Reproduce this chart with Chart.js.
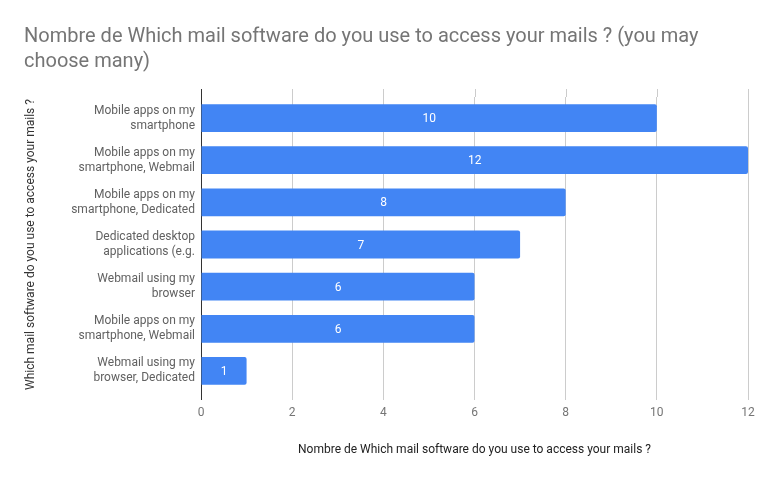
<!DOCTYPE html>
<html><head><meta charset="utf-8">
<script src="https://cdn.jsdelivr.net/npm/chart.js@4"></script>
<style>html,body{margin:0;padding:0;background:#fff}#wrap{width:773px;height:478px}</style>
</head><body><div id="wrap"><canvas id="c"></canvas></div>
<script>
const titleLines = ["Nombre de Which mail software do you use to access your mails ? (you may", "choose many)"];
const categories = [
  ["Mobile apps on my", "smartphone"],
  ["Mobile apps on my", "smartphone, Webmail"],
  ["Mobile apps on my", "smartphone, Dedicated"],
  ["Dedicated desktop", "applications (e.g."],
  ["Webmail using my", "browser"],
  ["Mobile apps on my", "smartphone, Webmail"],
  ["Webmail using my", "browser, Dedicated"]
];
const counts = [10, 12, 8, 7, 6, 6, 1];
const xTitle = "Nombre de Which mail software do you use to access your mails ?";
const yTitle = "Which mail software do you use to access your mails ?";

const gridExt = {
  id: 'gridExt',
  beforeDatasetsDraw(chart) {
    const {ctx, chartArea} = chart;
    const xs = chart.scales.x;
    ctx.save();
    ctx.lineWidth = 1;
    xs.ticks.forEach((t) => {
      const x = Math.round(xs.getPixelForValue(t.value)) + 0.5;
      ctx.strokeStyle = t.value === 0 ? '#333333' : '#cccccc';
      ctx.beginPath();
      ctx.moveTo(x, chartArea.top - 8);
      ctx.lineTo(x, chartArea.top);
      ctx.stroke();
    });
    ctx.restore();
  }
};
const valueLabels = {
  id: 'valueLabels',
  afterDatasetsDraw(chart) {
    const {ctx} = chart;
    const meta = chart.getDatasetMeta(0);
    ctx.save();
    ctx.fillStyle = '#ffffff';
    ctx.font = '12px Roboto';
    ctx.textAlign = 'center';
    ctx.textBaseline = 'middle';
    meta.data.forEach((bar, i) => {
      const cx = (bar.x + bar.base) / 2;
      ctx.fillText(String(counts[i]), cx, bar.y + 1);
    });
    ctx.restore();
  }
};

new Chart(document.getElementById('c'), {
  type: 'bar',
  data: {
    labels: categories,
    datasets: [{
      data: counts,
      backgroundColor: '#4285F4',
      borderRadius: 2,
      borderSkipped: 'start',
      categoryPercentage: 1,
      barPercentage: 0.66
    }]
  },
  options: {
    indexAxis: 'y',
    responsive: true,
    maintainAspectRatio: false,
    animation: false,
    layout: {padding: {left: 24, right: 25, top: 0, bottom: 0}},
    plugins: {
      legend: {display: false},
      tooltip: {enabled: false},
      title: {
        display: true,
        text: titleLines,
        align: 'start',
        color: '#757575',
        font: {family: 'Roboto', size: 20, weight: 'normal', lineHeight: 1.25},
        padding: {top: 24, bottom: 23}
      }
    },
    scales: {
      x: {
        min: 0, max: 12,
        ticks: {stepSize: 2, color: '#757575', font: {family: 'Roboto', size: 12}, padding: 6, maxRotation: 0},
        grid: {
          color: (c) => (c.tick && c.tick.value === 0) ? '#333333' : '#cccccc',
          tickLength: 8, drawTicks: true
        },
        border: {display: false},
        title: {display: true, text: xTitle, color: '#222222', font: {family: 'Roboto', size: 12}, padding: {top: 0, bottom: 21}},
        afterFit(s) { s.height = 86; }
      },
      y: {
        ticks: {color: '#616161', font: {family: 'Roboto', size: 12, lineHeight: 1.25}, padding: 6, autoSkip: false},
        grid: {display: false, drawTicks: false, tickLength: 0},
        border: {display: false},
        title: {display: true, text: yTitle, color: '#333333', font: {family: 'Roboto', size: 12}, padding: {top: 0, bottom: 0}},
        afterFit(s) { s.width = 177; }
      }
    }
  },
  plugins: [gridExt, valueLabels]
});
</script></body></html>
